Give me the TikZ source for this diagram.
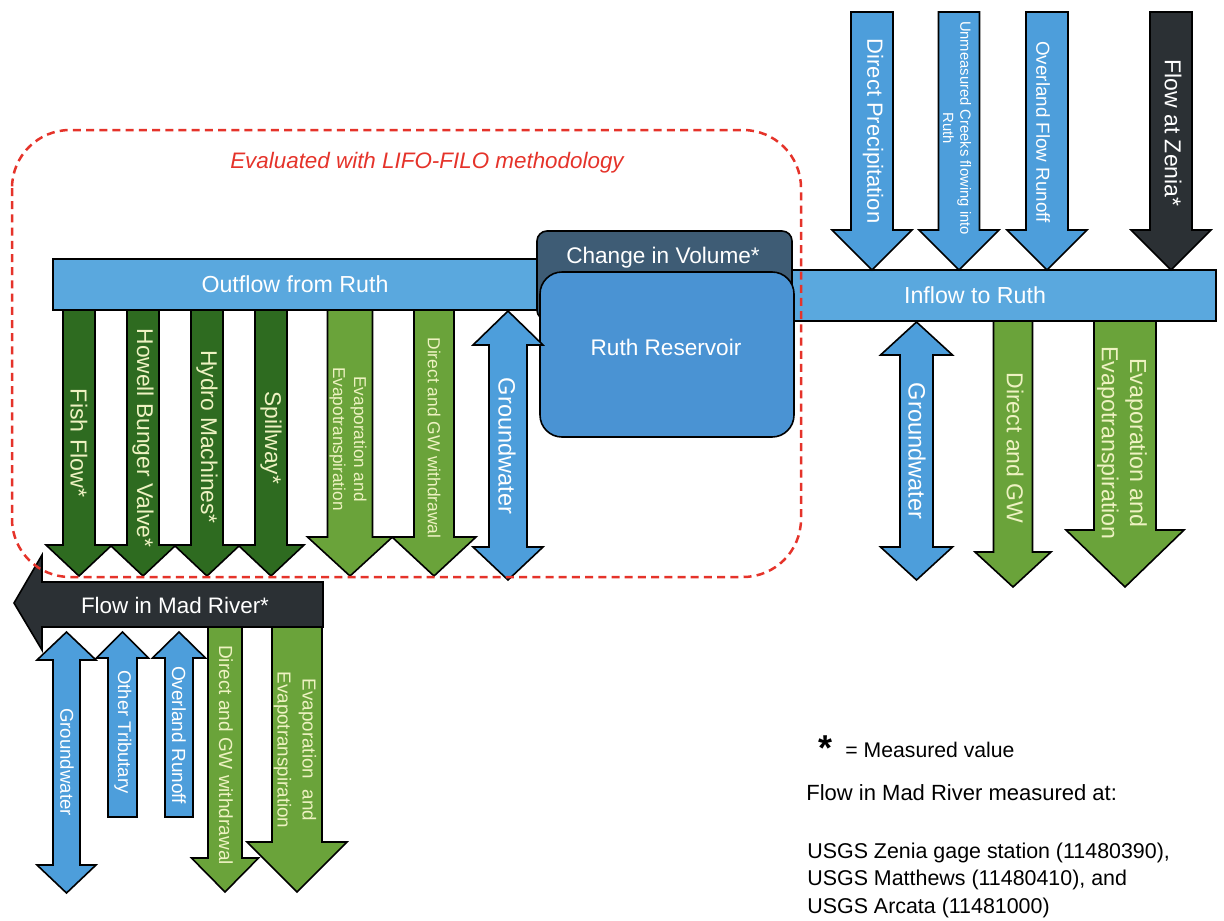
\documentclass[tikz,border=0pt]{standalone}
\usepackage{fontspec}
\setmainfont{Liberation Sans}

\definecolor{barblue}{HTML}{5AA8DE}
\definecolor{arrowblue}{HTML}{4D9EDB}
\definecolor{resblue}{HTML}{4A93D3}
\definecolor{civslate}{HTML}{3E5C75}
\definecolor{dkgreen}{HTML}{2E6B20}
\definecolor{ltgreen}{HTML}{6AA33A}
\definecolor{charcoal}{HTML}{2B3034}
\definecolor{paleyellow}{HTML}{EEF2C2}
\definecolor{lifored}{HTML}{E5332A}

\newcommand{\fsz}[2]{\fontsize{#1}{#2}\selectfont}

% block arrow pointing down: fill, centre x, shaft half width, head half width, top, head base, tip
\newcommand{\flowdown}[7]{%
  \filldraw[blockline, fill=#1] ({#2-#3},#5) -- ({#2+#3},#5) -- ({#2+#3},#6) -- ({#2+#4},#6)
    -- (#2,#7) -- ({#2-#4},#6) -- ({#2-#3},#6) -- cycle;}
% block arrow pointing up: fill, centre x, shaft half width, head half width, tip, head base, bottom
\newcommand{\flowup}[7]{%
  \filldraw[blockline, fill=#1] (#2,#5) -- ({#2+#4},#6) -- ({#2+#3},#6) -- ({#2+#3},#7)
    -- ({#2-#3},#7) -- ({#2-#3},#6) -- ({#2-#4},#6) -- cycle;}
% two-headed block arrow: fill, centre x, shaft half, head half, top tip, top head base, bottom head base, bottom tip
\newcommand{\flowboth}[8]{%
  \filldraw[blockline, fill=#1] (#2,#5) -- ({#2+#4},#6) -- ({#2+#3},#6) -- ({#2+#3},#7) -- ({#2+#4},#7)
    -- (#2,#8) -- ({#2-#4},#7) -- ({#2-#3},#7) -- ({#2-#3},#6) -- ({#2-#4},#6) -- cycle;}

\begin{document}
\begin{tikzpicture}[x=0.5pt, y=-0.5pt,
  blockline/.style={draw=black, line width=0.8pt, line join=miter},
  vlab/.style={rotate=-90, align=center, inner sep=0pt},
  onblue/.style={text=white},
  ongreen/.style={text=paleyellow},
  legend/.style={anchor=base west, inner sep=0pt, text=black}]
\useasboundingbox (0,0) rectangle (1224,920);

% ---- horizontal bars ----
\filldraw[blockline, fill=barblue] (53,259) rectangle (560,310);
\filldraw[blockline, fill=barblue] (770,270) rectangle (1216,321);

% ---- reservoir with change in volume tab ----
\filldraw[blockline, fill=civslate, rounded corners=5pt] (537,231) rectangle (792,320);
\filldraw[blockline, fill=resblue, rounded corners=11pt] (540,272) rectangle (794,437);
\node[onblue, font=\fsz{11.3}{13}] (civ) at (663,258) {Change in Volume*};
\node[onblue, font=\fsz{11.3}{13}] (res) at (666,347) {Ruth Reservoir};
\node[onblue, font=\fsz{11.6}{13}] (outflow) at (295,284) {Outflow from Ruth};
\node[onblue, font=\fsz{11.6}{13}] (inflow) at (975,295) {Inflow to Ruth};

% ---- outflows from Ruth ----
\flowdown{dkgreen}{79}{16}{33}{310}{545}{576}
\flowdown{dkgreen}{143}{16}{33}{310}{545}{576}
\flowdown{dkgreen}{207}{16}{33}{310}{545}{576}
\flowdown{dkgreen}{271}{16}{33}{310}{545}{576}
\flowdown{ltgreen}{350}{22.5}{42.5}{310}{537}{576}
\flowdown{ltgreen}{434}{20}{42}{310}{537}{576}
\flowboth{arrowblue}{508}{19}{35}{311}{345}{547}{580}

\node[vlab, ongreen, font=\fsz{11.6}{13}] (fish) at (79,443) {Fish Flow*};
\node[vlab, ongreen, font=\fsz{11.4}{13}] (howell) at (143,438) {Howell Bunger Valve*};
\node[vlab, ongreen, font=\fsz{11.4}{13}] (hydro) at (207,437) {Hydro Machines*};
\node[vlab, ongreen, font=\fsz{11.4}{13}] (spill) at (271,438) {Spillway*};
\node[vlab, ongreen, font=\fsz{8.6}{10.5}] (evapres) at (348,439) {Evaporation and\\Evapotranspiration};
\node[vlab, ongreen, font=\fsz{8.7}{10.5}] (gwres) at (434,438) {Direct and GW withdrawal};
\node[vlab, onblue, font=\fsz{11.8}{13}] (gwout) at (507,446) {Groundwater};

% ---- inflows to Ruth ----
\flowdown{arrowblue}{872}{21}{40}{12}{230}{270}
\flowdown{arrowblue}{959}{20.5}{40}{12}{230}{270}
\flowdown{arrowblue}{1047}{21}{40}{12}{230}{270}
\flowdown{charcoal}{1171}{21}{40}{12}{230}{270}

\node[vlab, onblue, font=\fsz{11}{13}] (precip) at (873,131) {Direct Precipitation};
\node[vlab, onblue, font=\fsz{7.4}{8.6}] (creeks) at (957,128) {Unmeasured Creeks flowing into\\Ruth};
\node[vlab, onblue, font=\fsz{9.4}{11}] (overland) at (1043,132) {Overland Flow Runoff};
\node[vlab, onblue, font=\fsz{11.5}{13}] (zenia) at (1173,133) {Flow at Zenia*};

% ---- exchanges along the inflow reach ----
\flowboth{arrowblue}{916.5}{16.5}{36}{322}{355}{547}{580}
\flowdown{ltgreen}{1013}{19.5}{38}{321}{552}{587}
\flowdown{ltgreen}{1125}{31}{59}{321}{530}{587}

\node[vlab, onblue, font=\fsz{11.8}{13}] (gwin) at (917,451) {Groundwater};
\node[vlab, ongreen, font=\fsz{11.5}{13}] (gwdirin) at (1015,448) {Direct and GW};
\node[vlab, ongreen, font=\fsz{11.6}{14.2}] (evapin) at (1122,443) {Evaporation and\\Evapotranspiration};

% ---- Mad River ----
\filldraw[blockline, fill=charcoal] (323,582) -- (42,582) -- (42,555) -- (14,603) -- (42,650)
  -- (42,627) -- (323,627) -- cycle;
\node[onblue, font=\fsz{11.2}{13}] (madriver) at (175,605) {Flow in Mad River*};

\flowboth{arrowblue}{66.5}{13.5}{29.5}{632}{660}{865}{893}
\flowup{arrowblue}{122.5}{14.5}{26}{632}{658}{817}
\flowup{arrowblue}{179}{14}{26.5}{632}{658}{817}
\flowdown{ltgreen}{225}{17}{33.5}{627}{858}{892}
\flowdown{ltgreen}{297}{25}{50}{627}{842}{892}

\node[vlab, onblue, font=\fsz{9.3}{11}] (gwmad) at (67,762) {Groundwater};
\node[vlab, onblue, font=\fsz{9.2}{11}] (trib) at (123,732) {Other Tributary};
\node[vlab, onblue, font=\fsz{9.5}{11}] (runoff) at (179,735) {Overland Runoff};
\node[vlab, ongreen, font=\fsz{9.5}{11}] (gwdirmad) at (226,755) {Direct and GW withdrawal};
\node[vlab, ongreen, font=\fsz{9.4}{12.5}] (evapmad) at (295,750) {Evaporation\ \ and\\Evapotranspiration};

% ---- accounting boundary ----
\draw[lifored, line width=1.25pt, dash pattern=on 4pt off 2.6pt, rounded corners=29pt]
  (12,130) rectangle (801,577);
\node[text=lifored, font=\fsz{11.2}{13}\itshape] (lifo) at (427,163) {Evaluated with LIFO-FILO methodology};

% ---- legend ----
\node[legend, font=\fsz{18}{18}\bfseries] (star) at (818,760) {*};
\node[legend, font=\fsz{10.6}{13}] (measured) at (845,757) {= Measured value};
\node[legend, font=\fsz{11}{13}] (madnote) at (806,800) {Flow in Mad River measured at:};
\node[legend, font=\fsz{10.7}{13.75}, align=left] (gages) at (807,913)
  {USGS Zenia gage station (11480390),\\USGS Matthews (11480410), and\\USGS Arcata (11481000)};
\end{tikzpicture}
\end{document}
